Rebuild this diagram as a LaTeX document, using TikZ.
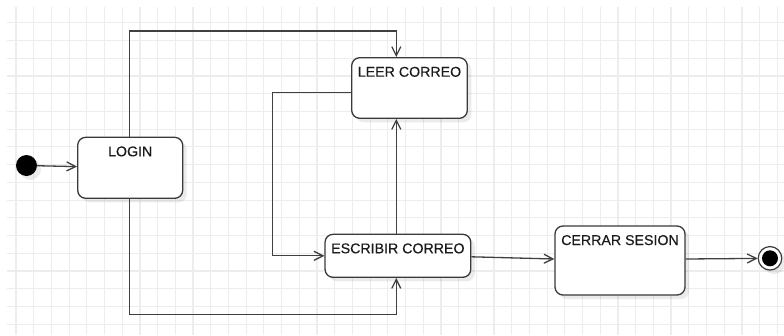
\documentclass[tikz,border=0pt]{standalone}
\usepackage{fontspec}
\setmainfont{Liberation Sans}
\newfontfamily\lblfont{Liberation Sans}[FakeBold=0.35]
\usetikzlibrary{arrows.meta,shadows}
\definecolor{gridc}{HTML}{EDEDED}
\definecolor{linec}{HTML}{404040}
\definecolor{boxc}{HTML}{3A3A3A}
\definecolor{txtc}{HTML}{1A1A1A}
\tikzset{
  gridline/.style={draw=gridc,line width=1.2pt},
  stbox/.style={draw=boxc,line width=1.3pt,fill=white,rounded corners=8pt,
    inner xsep=0pt,inner ysep=0pt,text height=19pt,
    font=\lblfont\fontsize{14.2}{16}\selectfont,text=txtc,
    drop shadow={shadow xshift=4pt,shadow yshift=-4pt,opacity=0.08,fill=black}},
  conn/.style={draw=linec,line width=1.3pt,-{Straight Barb[length=9pt,width=9pt]}},
}
\begin{document}
\begin{tikzpicture}[x=1pt,y=-1pt]
\useasboundingbox (0,0) rectangle (784,335);
\fill[white] (0,0) rectangle (784,335);
% grid
\foreach \i in {0,...,43} \draw[gridline] ({16+\i*17.705},7) -- ({16+\i*17.705},335);
\foreach \j in {0,...,17} \draw[gridline] (7,{22.7+\j*17.74}) -- (784,{22.7+\j*17.74});
% states
\node[stbox,minimum width=105pt,text depth=42pt] (login) at (130.2,167.8) {LOGIN};
\node[stbox,minimum width=115.6pt,text depth=41.6pt] (leer) at (409.5,88) {LEER CORREO};
\node[stbox,minimum width=145.7pt,text depth=24pt] (escribir) at (397.9,255.8) {ESCRIBIR CORREO};
\node[stbox,minimum width=130pt,text depth=50pt] (cerrar) at (620,260.5) {CERRAR SESION};
% initial and final
\node[circle,fill=black,minimum size=21pt,inner sep=0pt,
  drop shadow={shadow xshift=4pt,shadow yshift=-4pt,opacity=0.08,fill=black}] (init) at (26.5,165.5) {};
\node[circle,draw=boxc,line width=1.2pt,fill=white,minimum size=23.5pt,inner sep=0pt,
  drop shadow={shadow xshift=4pt,shadow yshift=-4pt,opacity=0.08,fill=black}] (final) at (770,258.3) {};
\node[circle,fill=black,minimum size=16pt,inner sep=0pt] (finaldot) at (final.center) {};
% coordinates for routes
\coordinate (c1) at (396.3,31);
\coordinate (c2) at (396.3,314.3);
\coordinate (c3) at (272.3,92.7);
% connectors
\draw[conn] (init) -- (login);
\draw[conn] ([xshift=-1pt]login.north) |- (c1) -- (c1 |- leer.north);
\draw[conn] ([xshift=-1pt]login.south) |- (c2) -- (c2 |- escribir.south);
\draw[conn] (c3 -| leer.west) -- (c3) |- (escribir.west);
\draw[conn] (c1 |- escribir.north) -- (c1 |- leer.south);
\draw[conn] ([yshift=-1pt]escribir.east) -- ([yshift=1.5pt]cerrar.west);
\draw[conn] ([yshift=1.5pt]cerrar.east) -- (final);
\end{tikzpicture}
\end{document}
